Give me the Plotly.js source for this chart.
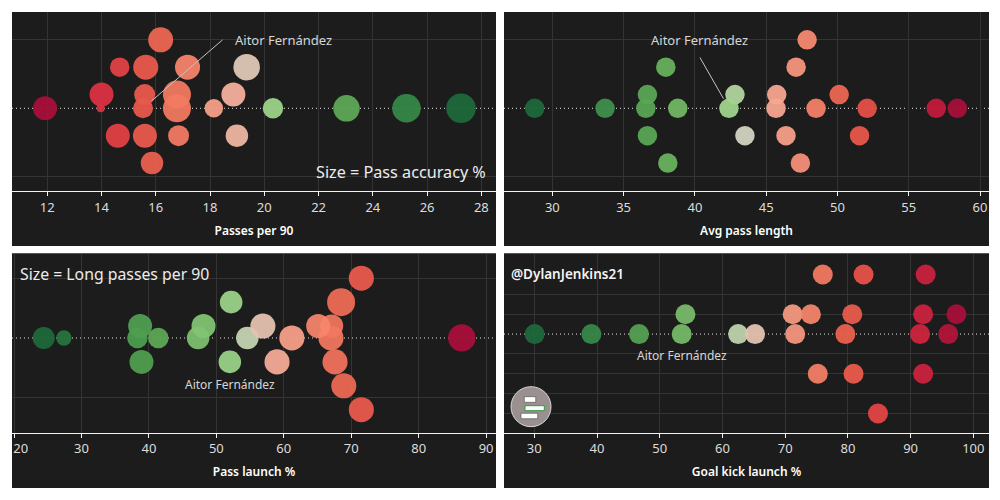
<!DOCTYPE html>
<html>
<head>
<meta charset="utf-8">
<script src="https://cdn.plot.ly/plotly-3.0.1.min.js"></script>
<style>
  html, body { margin: 0; padding: 0; background: #ffffff; }
  #chart { width: 1000px; height: 500px; }
</style>
</head>
<body>
<div id="chart"></div>
<script>
// ---------- Panel 1: Passes per 90 (size = pass accuracy %) ----------
const passesPer90   = [11.92, 14.00, 13.97, 14.67, 14.60, 16.18, 15.63, 15.59, 15.53, 15.60, 15.86, 17.17, 16.78, 16.78, 16.84, 18.14, 18.86, 19.35, 18.99, 20.32, 23.03, 25.24, 27.25];
const passesRow     = [0, 1, 0, 3, -2, 5, 3, 1, 0, -2, -4, 3, 1, 0, -2, 0, 1, 3, -2, 0, 0, 0, 0];
const passAccuracy  = [77, 77, 45, 68, 77, 79, 79, 71, 69, 77, 74, 79, 85, 85, 71, 66, 77, 82, 74, 70, 82, 86, 88];
const aitorPasses = 8;

// ---------- Panel 2: Avg pass length ----------
const avgPassLength = [28.76, 33.70, 36.67, 36.56, 38.80, 42.81, 42.39, 45.74, 45.69, 48.50, 50.12, 52.08, 56.93, 58.41, 37.96, 47.10, 47.87, 36.67, 43.51, 46.39, 51.55, 38.10, 47.40];
const avgLengthRow  = [0, 0, 1, 0, 0, 1, 0, 1, 0, 0, 1, 0, 0, 0, 3, 3, 5, -2, -2, -2, -2, -4, -4];
const aitorLength = 6;

// ---------- Panel 3: Pass launch % (size = long passes per 90) ----------
const passLaunch     = [24.4, 27.4, 38.3, 38.7, 41.4, 47.3, 48.1, 54.6, 56.9, 61.2, 67.1, 67.0, 65.1, 86.4, 52.2, 68.5, 71.5, 38.9, 52.0, 59.0, 67.6, 68.9, 71.5];
const passLaunchRow  = [0, 0, 0, 1, 0, 0, 1, 0, 1, 0, 1, 0, 1, 0, 3, 3, 5, -2, -2, -2, -2, -4, -6];
const longPassesPer90 = [5.9, 2.2, 5.1, 7.0, 5.1, 6.2, 7.0, 6.2, 7.6, 7.6, 6.5, 7.6, 7.0, 8.8, 6.2, 9.2, 7.6, 7.0, 6.2, 7.6, 7.6, 7.6, 7.6];
const aitorLaunch = 18;

// ---------- Panel 4: Goal kick launch % ----------
const goalKickLaunch = [76.0, 82.5, 92.4, 54.1, 71.2, 74.1, 80.7, 92.0, 97.3, 30.05, 39.1, 46.7, 53.5, 62.5, 65.2, 71.6, 79.6, 91.5, 96.0, 75.2, 80.9, 92.0, 84.8];
const goalKickRow    = [3, 3, 3, 1, 1, 1, 1, 1, 1, 0, 0, 0, 0, 0, 0, 0, 0, 0, 0, -2, -2, -2, -4];
const aitorGoalKick = 12;

// ---------- Axis ticks ----------
const ticks1 = [12, 14, 16, 18, 20, 22, 24, 26, 28];
const ticks2 = [30, 35, 40, 45, 50, 55, 60];
const ticks3 = [20, 30, 40, 50, 60, 70, 80, 90];
const ticks3Text = ['\u00a0\u00a0\u00a0\u00a020', '30', '40', '50', '60', '70', '80', '90'];
const ticks4 = [30, 40, 50, 60, 70, 80, 90, 100];

const playerLabel = 'Aitor Fernández';
const titles = ['Passes per 90', 'Avg pass length', 'Pass launch %', 'Goal kick launch %'];
const sizeNote1 = 'Size = Pass accuracy %';
const sizeNote3 = 'Size = Long passes per 90';
const credit = '@DylanJenkins21';

// ---------- styles ----------
const FONT = 'Noto Sans, sans-serif';
const BG = '#1c1c1c';
const GRID = '#343434';
const colorscale = [
  [0, '#1e6a3b'], [0.15, '#3a8c4b'], [0.26, '#58a553'], [0.34, '#72b865'],
  [0.46, '#a0d68d'], [0.5, '#d6d5c4'], [0.55, '#f8ae9b'], [0.6, '#f89e86'],
  [0.66, '#f6836a'], [0.72, '#ee6853'], [0.79, '#e84f48'], [0.86, '#dd3342'],
  [0.95, '#c41b3c'], [1, '#a80f3a']
];

function scaleSizes(vals, dMin, dMax) {
  const lo = Math.min(...vals), hi = Math.max(...vals);
  return vals.map(v => dMin + (v - lo) / (hi - lo) * (dMax - dMin));
}

function trace(x, y, sizes, axis, reverse) {
  return {
    type: 'scatter', mode: 'markers', x: x, y: y,
    xaxis: 'x' + axis, yaxis: 'y' + axis,
    hoverinfo: 'skip', showlegend: false,
    marker: {
      size: sizes, color: x, colorscale: colorscale, reversescale: !!reverse,
      cmin: Math.min(...x), cmax: Math.max(...x),
      opacity: 0.94, line: { width: 0 }
    }
  };
}

const data = [
  trace(passesPer90, passesRow, scaleSizes(passAccuracy, 8, 29.5), '', true),
  trace(avgPassLength, avgLengthRow, avgPassLength.map(() => 19.5), '2'),
  trace(passLaunch, passLaunchRow, scaleSizes(longPassesPer90, 15.3, 28), '3'),
  trace(goalKickLaunch, goalKickRow, goalKickLaunch.map(() => 20), '4')
];

function xAxis(domain, range, tickvals, ticktext, title, anchor) {
  const ax = {
    domain: domain, range: range, anchor: anchor,
    tickmode: 'array', tickvals: tickvals,
    showgrid: true, gridcolor: GRID, gridwidth: 1, zeroline: false,
    showline: true, linecolor: '#f2f2f2', linewidth: 1.2,
    ticks: 'outside', ticklen: 4, tickwidth: 1, tickcolor: '#f2f2f2',
    ticklabeloverflow: 'allow',
    tickfont: { family: FONT, size: 13, color: '#dcdcdc' },
    title: { text: title, font: { family: FONT, size: 12, color: '#ffffff', weight: 600 }, standoff: 11 },
    fixedrange: true
  };
  if (ticktext) ax.ticktext = ticktext;
  return ax;
}
function yAxis(domain, range, tickvals, anchor) {
  return {
    domain: domain, range: range, anchor: anchor,
    tickmode: 'array', tickvals: tickvals, showticklabels: false,
    showgrid: true, gridcolor: GRID, gridwidth: 1, zeroline: false,
    showline: false, ticks: '', fixedrange: true
  };
}

const topY = [0.618, 0.976], botY = [0.135, 0.493];
const leftX = [0.012, 0.496], rightX = [0.504, 0.989];
const ranges = {
  x: [10.70, 28.54], x2: [26.61, 60.63], x3: [19.70, 91.47], x4: [25.17, 102.5]
};

function panelRect(x0, x1, y0, y1) {
  return { type: 'rect', xref: 'paper', yref: 'paper', x0: x0, x1: x1, y0: y0, y1: y1,
           fillcolor: BG, line: { width: 0 }, layer: 'below' };
}
function zeroLine(axis) {
  const r = ranges['x' + axis];
  return { type: 'line', xref: 'x' + axis, yref: 'y' + axis, x0: r[0], x1: r[1], y0: 0, y1: 0,
           line: { color: '#e6e6e6', width: 1, dash: '1px,3px' }, layer: 'below' };
}

const labelFont = { family: FONT, size: 13, color: '#d6d6d6' };
const labelFontSmall = { family: FONT, size: 12, color: '#d6d6d6' };

const layout = {
  width: 1000, height: 500,
  margin: { l: 0, r: 0, t: 0, b: 0 },
  paper_bgcolor: '#ffffff', plot_bgcolor: BG,
  showlegend: false,
  xaxis:  xAxis(leftX, ranges.x, ticks1, null, titles[0], 'y'),
  yaxis:  yAxis(topY, [-6.04, 7.03], [-5, 5], 'x'),
  xaxis2: xAxis(rightX, ranges.x2, ticks2, null, titles[1], 'y2'),
  yaxis2: yAxis(topY, [-6.04, 7.03], [-5, 5], 'x2'),
  xaxis3: xAxis(leftX, ranges.x3, ticks3, ticks3Text, titles[2], 'y3'),
  yaxis3: yAxis(botY, [-7.91, 7.07], [-5, 5], 'x3'),
  xaxis4: xAxis(rightX, ranges.x4, ticks4, null, titles[3], 'y4'),
  yaxis4: yAxis(botY, [-4.96, 4.06], [-4, -3, -2, -1, 1, 2], 'x4'),
  shapes: [
    panelRect(0.012, 0.496, 0.508, 0.976),
    panelRect(0.504, 0.989, 0.508, 0.976),
    panelRect(0.012, 0.496, 0.024, 0.493),
    panelRect(0.504, 0.989, 0.024, 0.493),
    zeroLine(''), zeroLine('2'), zeroLine('3'), zeroLine('4'),
    // logo badge
    { type: 'circle', xref: 'paper', yref: 'paper', x0: 0.511, x1: 0.551, y0: 0.1466, y1: 0.2266,
      fillcolor: '#9a9090', line: { color: '#d8d8d8', width: 1 }, layer: 'above' },
    { type: 'rect', xref: 'paper', yref: 'paper', x0: 0.5243, x1: 0.5357, y0: 0.1954, y1: 0.2066,
      fillcolor: '#ffffff', line: { color: '#333333', width: 0.5 }, layer: 'above' },
    { type: 'rect', xref: 'paper', yref: 'paper', x0: 0.525, x1: 0.5443, y0: 0.1786, y1: 0.1886,
      fillcolor: '#ffffff', line: { color: '#2f9a3a', width: 1 }, layer: 'above' },
    { type: 'rect', xref: 'paper', yref: 'paper', x0: 0.521, x1: 0.5377, y0: 0.1626, y1: 0.1734,
      fillcolor: '#ffffff', line: { color: '#333333', width: 0.5 }, layer: 'above' }
  ],
  annotations: [
    { xref: 'x', yref: 'y', x: 18.84, y: 5, text: playerLabel, showarrow: false,
      xanchor: 'left', yanchor: 'middle', font: labelFont },
    { xref: 'x', yref: 'y', x: passesPer90[aitorPasses], y: passesRow[aitorPasses], text: '',
      showarrow: true, arrowhead: 0, arrowwidth: 1, arrowcolor: '#c4c4c4', ax: 81, ay: -69.7, standoff: 11 },
    { xref: 'x2', yref: 'y2', x: 36.8, y: 5, text: playerLabel, showarrow: false,
      xanchor: 'left', yanchor: 'middle', font: labelFont },
    { xref: 'x2', yref: 'y2', x: avgPassLength[aitorLength], y: avgLengthRow[aitorLength], text: '',
      showarrow: true, arrowhead: 0, arrowwidth: 1, arrowcolor: '#c4c4c4', ax: -29.9, ay: -52.3, standoff: 11 },
    { xref: 'x3', yref: 'y3', x: passLaunch[aitorLaunch], y: passLaunchRow[aitorLaunch], text: playerLabel,
      showarrow: false, xanchor: 'center', yanchor: 'middle', yshift: -23, font: labelFontSmall },
    { xref: 'x4', yref: 'y4', x: goalKickLaunch[aitorGoalKick], y: goalKickRow[aitorGoalKick], text: playerLabel,
      showarrow: false, xanchor: 'center', yanchor: 'middle', yshift: -21, font: labelFontSmall },
    { xref: 'paper', yref: 'paper', x: 0.488, y: 0.6566, text: sizeNote1, showarrow: false,
      xanchor: 'right', yanchor: 'middle', font: { family: FONT, size: 16.2, color: '#ececec' } },
    { xref: 'paper', yref: 'paper', x: 0.018, y: 0.452, text: sizeNote3, showarrow: false,
      xanchor: 'left', yanchor: 'middle', font: { family: FONT, size: 15.8, color: '#ececec' } },
    { xref: 'paper', yref: 'paper', x: 0.509, y: 0.452, text: credit, showarrow: false,
      xanchor: 'left', yanchor: 'middle', font: { family: FONT, size: 13.5, color: '#f4f4f4', weight: 600 } }
  ]
};

Plotly.newPlot('chart', data, layout, { staticPlot: true, displayModeBar: false });
</script>
</body>
</html>
